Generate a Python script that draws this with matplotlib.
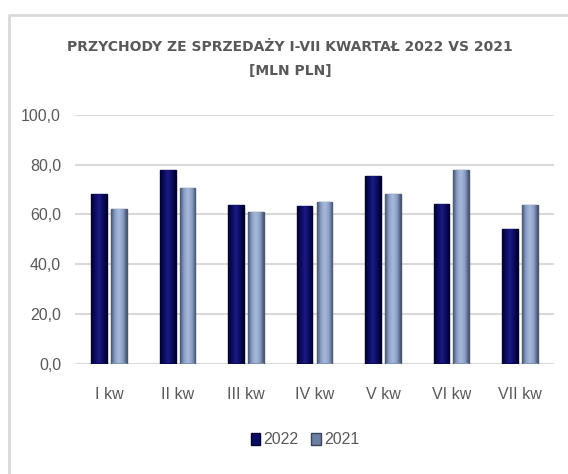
import matplotlib
matplotlib.use("Agg")
import matplotlib.pyplot as plt
import numpy as np
from matplotlib.lines import Line2D
from matplotlib.patches import Patch

plt.rcParams['font.family'] = ['Liberation Sans Narrow', 'Liberation Sans', 'DejaVu Sans']

categories = ["I kw", "II kw", "III kw", "IV kw", "V kw", "VI kw", "VII kw"]
values_2022 = [68.3, 77.9, 63.9, 63.3, 75.6, 64.3, 54.3]
values_2021 = [62.3, 70.7, 60.9, 64.9, 68.3, 77.9, 63.9]

text_color = "#595959"
color_2022 = "#0c0c60"
color_2021 = "#8a9fc6"

W, H = 568, 474
fig = plt.figure(figsize=(W / 100, H / 100), dpi=100)

# outer chart border (only left and top visible)
fig.add_artist(Line2D([8.5 / W, 8.5 / W, 1.0], [0.0, 1 - 15 / H, 1 - 15 / H],
                      transform=fig.transFigure, color="#d9d9d9", lw=2))

ax = fig.add_axes([75 / W, (H - 363.5) / H, (554 - 75) / W, (363.5 - 115) / H])

x = np.arange(len(categories))
width = 0.23
off = 0.145

def bevel_bars(xpos, vals, face, edge, light):
    bars = ax.bar(xpos, vals, width, color=face, edgecolor=edge, linewidth=1.0, zorder=3)
    # horizontal gradient to mimic the bevel look
    grad = np.concatenate([np.linspace(0, 1, 20), np.linspace(1, 0, 20)])[None, :]
    cmap = matplotlib.colors.LinearSegmentedColormap.from_list("b", [edge, face, light])
    for b in bars:
        x0, y0 = b.get_x(), b.get_y()
        im = ax.imshow(grad, cmap=cmap, aspect="auto", zorder=3.5,
                       extent=[x0, x0 + b.get_width(), y0, y0 + b.get_height()])
        im.set_clip_path(b)
    return bars

bevel_bars(x - off, values_2022, color_2022, "#00002e", "#1a1a80")
bevel_bars(x + off, values_2021, color_2021, "#4a5670", "#a6b8da")

ax.set_xlim(-0.5, len(categories) - 0.5)
ax.set_ylim(0, 100)
ax.set_yticks(np.arange(0, 101, 20))
ax.set_yticklabels([f"{v:.1f}".replace(".", ",") for v in np.arange(0, 101, 20)])
ax.set_xticks(x)
ax.set_xticklabels(categories)
ax.grid(axis="y", color="#d9d9d9", lw=1.5, zorder=0)
for s in ax.spines.values():
    s.set_visible(False)
ax.tick_params(length=0, labelsize=11.5, labelcolor=text_color)
ax.tick_params(axis="y", pad=10)
ax.tick_params(axis="x", pad=17)

fig.text(290 / W, 1 - 47 / H, "PRZYCHODY ZE SPRZEDAŻY I-VII KWARTAŁ 2022 VS 2021",
         ha="center", va="center", fontsize=10, fontweight="bold", color=text_color,
         family=["DejaVu Sans"])
fig.text(290 / W, 1 - 71 / H, "[MLN PLN]", ha="center", va="center", fontsize=10,
         fontweight="bold", color=text_color, family=["DejaVu Sans"])

handles = [Patch(facecolor=color_2022, edgecolor="#00002e"),
           Patch(facecolor="#6d7fa0", edgecolor="#3a4458")]
fig.legend(handles, ["2022", "2021"], loc="center", bbox_to_anchor=(305 / W, 1 - 440 / H),
           ncol=2, frameon=False, fontsize=11.5, handlelength=0.6, handleheight=0.8,
           handletextpad=0.2, columnspacing=0.8, labelcolor=text_color)

fig.savefig("out.png", dpi=100)
